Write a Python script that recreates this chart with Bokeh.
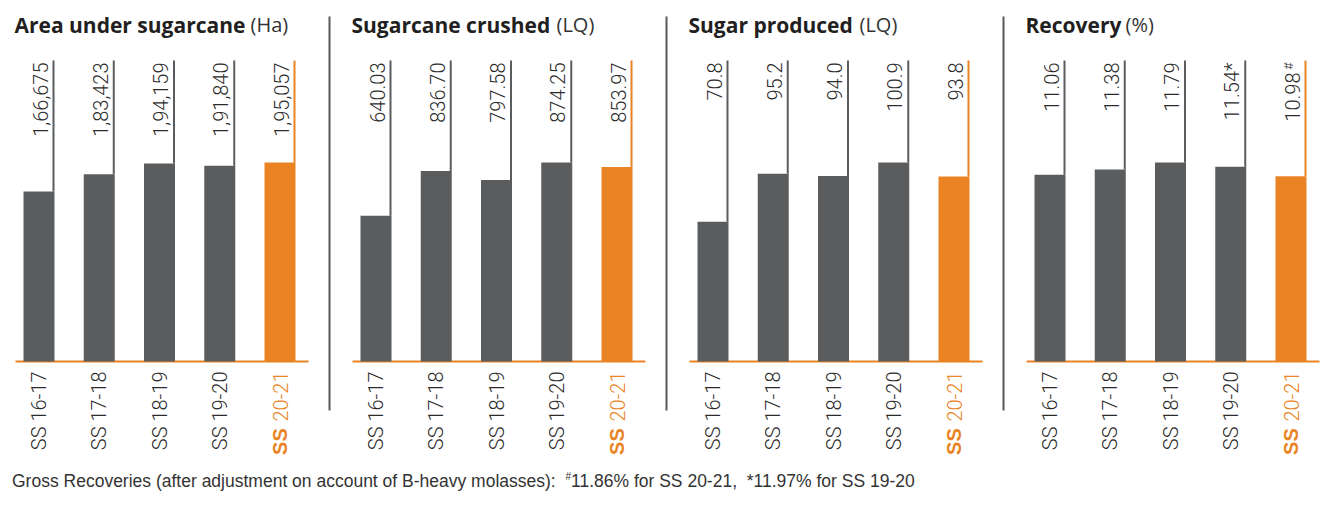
import math
from bokeh.plotting import figure
from bokeh.models import Range1d, ColumnDataSource, Label, Div
from bokeh.layouts import row, column
from bokeh.core.properties import value
from bokeh.embed import file_html
from bokeh.resources import INLINE

# ---------------- data ----------------
seasons = ["SS 16-17", "SS 17-18", "SS 18-19", "SS 19-20", "SS 20-21"]
highlight_season = "SS 20-21"
panel_titles = ["Area under sugarcane", "Sugarcane crushed", "Sugar produced", "Recovery"]
panel_units = ["(Ha)", "(LQ)", "(LQ)", "(%)"]
area_ha = [166675, 183423, 194159, 191840, 195057]
crushed_lq = [640.03, 836.70, 797.58, 874.25, 853.97]
sugar_lq = [70.8, 95.2, 94.0, 100.9, 93.8]
recovery_pct = [11.06, 11.38, 11.79, 11.54, 10.98]
recovery_marks = ["", "", "", "*", "#"]
footnote_lead = "Gross Recoveries (after adjustment on account of B-heavy molasses):"
footnote_marks = ["#", "*"]
footnote_items = ["11.86% for SS 20-21,", "11.97% for SS 19-20"]

# ---------------- style ----------------
GRAY = "#5b5c5e"
ORANGE = "#e98324"
SEP = "#58595b"
TEXT = "#231f20"
LABEL_COLOR = "#2b2b2b"
LABEL_FONT = '"Roboto Light", "Liberation Sans"'
TITLE_FONT = "Open Sans"
SUPERSCRIPT_MARKS = {"#"}

PANEL_W = [337, 337, 337, 303]
UNIT_X = [242, 211, 177, 106]
H = 464
SPACING_PX = 60.25
FIRST_PX = 30.5
BAR_PX = 31
ZERO_PX = 353
TOP_PX = 52
MAXBAR_PX = 199
BW = BAR_PX / SPACING_PX

ARIAL_W = {"-": 0.333, " ": 0.278, ",": 0.278, ".": 0.278}


def text_w(s, size):
    return sum(ARIAL_W.get(ch, 0.556) for ch in s) * size


def indian(n):
    s = str(int(n))
    head, tail = s[:-3], s[-3:]
    groups = []
    while len(head) > 2:
        groups.insert(0, head[-2:])
        head = head[:-2]
    if head:
        groups.insert(0, head)
    return ",".join(groups + [tail])


panels = [
    (area_ha, [indian(v) for v in area_ha], [""] * 5),
    (crushed_lq, [f"{v:.2f}" for v in crushed_lq], [""] * 5),
    (sugar_lq, [f"{v:.1f}" for v in sugar_lq], [""] * 5),
    (recovery_pct, [f"{v:.2f}" for v in recovery_pct], recovery_marks),
]


def make_panel(k):
    vals, labels, marks = panels[k]
    width = PANEL_W[k]
    n = len(seasons)
    idx = list(range(n))
    x0 = -FIRST_PX / SPACING_PX
    scale = MAXBAR_PX / max(vals)
    p = figure(width=width, height=H,
               x_range=Range1d(x0, x0 + width / SPACING_PX),
               y_range=Range1d(-(H - ZERO_PX) / scale, ZERO_PX / scale),
               output_backend="svg", toolbar_location=None, title=None,
               x_axis_location=None, y_axis_location=None, min_border=0,
               outline_line_color=None, background_fill_color="white",
               border_fill_color="white")
    p.xgrid.grid_line_color = None
    p.ygrid.grid_line_color = None

    def ypx(rel):          # pixel row (from top of panel) -> data y
        return (ZERO_PX - rel) / scale

    def dxp(px):           # pixel distance -> data x distance
        return px / SPACING_PX

    def xpx(rel):          # pixel column -> data x
        return x0 + dxp(rel)

    top = ypx(TOP_PX)
    colors = [ORANGE if s == highlight_season else GRAY for s in seasons]

    # baseline
    p.segment(x0=[xpx(7)], y0=[0], x1=[xpx(300)], y1=[0], line_color=ORANGE, line_width=2)

    lx = [i + BW / 2 - dxp(1) for i in idx]
    main_txt = [lab + (m if m and m not in SUPERSCRIPT_MARKS else "") for lab, m in zip(labels, marks)]
    sup_txt = [m if m in SUPERSCRIPT_MARKS else "" for m in marks]
    src = ColumnDataSource(dict(
        x=idx, v=vals, c=colors, lx=lx, top=[top] * n,
        tx=[x - dxp(13.5) for x in lx],
        ty=[ypx(TOP_PX + 2 + (10 if s else 0)) for s in sup_txt],
        sx=[x - dxp(17.5) for x in lx],
        sy=[ypx(TOP_PX + 2)] * n,
        lab=main_txt, sup=sup_txt,
    ))
    p.vbar(x="x", top="v", bottom=0, width=BW, fill_color="c", line_color=None, source=src)
    p.segment(x0="lx", y0="v", x1="lx", y1="top", line_color="c", line_width=2, source=src)
    p.text(x="tx", y="ty", text="lab", angle=math.pi / 2, text_align="right",
           text_baseline="middle", text_font=value(LABEL_FONT), text_font_size="20px",
           text_color=LABEL_COLOR, source=src)
    if any(sup_txt):
        p.text(x="sx", y="sy", text="sup", angle=math.pi / 2, text_align="right",
               text_baseline="middle", text_font=value(LABEL_FONT), text_font_size="13px",
               text_color=LABEL_COLOR, source=src)

    # category labels
    cat_y = ypx(ZERO_PX + 10)
    norm_i = [i for i, s in enumerate(seasons) if s != highlight_season]
    p.text(x=norm_i, y=[cat_y] * len(norm_i), text=[seasons[i] for i in norm_i],
           angle=math.pi / 2, text_align="right", text_baseline="middle",
           text_font=value(LABEL_FONT), text_font_size="20px", text_color=LABEL_COLOR)
    for i, s in enumerate(seasons):
        if s == highlight_season:
            prefix, rest = s.split(" ", 1)
            p.text(x=[i], y=[cat_y], text=[rest], angle=math.pi / 2, text_align="right",
                   text_baseline="middle", text_font=value(LABEL_FONT),
                   text_font_size="20px", text_color=ORANGE)
            p.text(x=[i], y=[ypx(ZERO_PX + 10 + text_w(" " + rest, 20))], text=[prefix],
                   angle=math.pi / 2, text_align="right", text_baseline="middle",
                   text_font=value("Liberation Sans"), text_font_size="20px",
                   text_font_style="bold", text_color=ORANGE)

    # separator to the next panel
    if k < 3:
        p.segment(x0=[xpx(321)], y0=[ypx(402)], x1=[xpx(321)], y1=[ypx(8)],
                  line_color=SEP, line_width=2)

    # title
    p.add_layout(Label(x=6, y=H - 16, x_units="screen", y_units="screen",
                       text=panel_titles[k], text_font=TITLE_FONT, text_font_size="21px",
                       text_font_style="bold", text_color=TEXT, text_baseline="alphabetic"))
    p.add_layout(Label(x=UNIT_X[k], y=H - 16, x_units="screen", y_units="screen",
                       text=panel_units[k], text_font=TITLE_FONT, text_font_size="20px",
                       text_color="#333333", text_baseline="alphabetic"))
    return p


figs = [make_panel(k) for k in range(4)]

note_html = (footnote_lead + "&nbsp;&nbsp;" +
             ",&nbsp;&nbsp;".join(
                 (f'<sup style="font-size:10px">{m}</sup>' if m == "#" else m) + t.rstrip(",")
                 for m, t in zip(footnote_marks, footnote_items)))
note = Div(text=note_html, width=1300, height=26, margin=(0, 0, 0, 4),
           styles={"font-family": "Liberation Sans", "font-size": "17.5px",
                   "color": "#333333", "line-height": "1"})

layout = column(row(*figs, spacing=0), note, spacing=0, margin=(8, 0, 0, 8))
open("out.html", "w").write(file_html(layout, INLINE))
